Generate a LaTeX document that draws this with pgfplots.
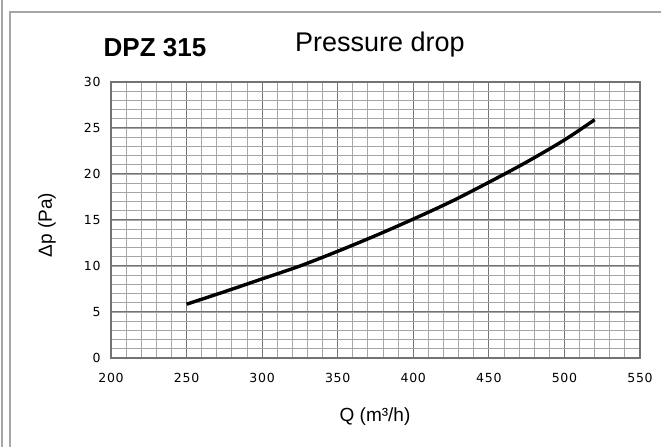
\documentclass[border=0pt]{standalone}
\usepackage{fontspec}
\setmainfont{Liberation Sans}
\newfontfamily\tickfont[LetterSpace=6]{DejaVu Sans}
\usepackage{pgfplots}
\pgfplotsset{compat=1.18}
\begin{document}
\begin{tikzpicture}[x=1pt,y=1pt]
\path[use as bounding box] (0,0) rectangle (661,447);
\draw[gray!70, line width=1.2pt] (2,0) -- (2,447);
\draw[gray!70, line width=1.2pt] (10,0) -- (10,435) -- (661,435);
\begin{axis}[at={(111pt,89pt)}, anchor=south west, scale only axis,
  width=529pt, height=276pt,
  xmin=200, xmax=550, ymin=0, ymax=30,
  xtick={200,250,...,550}, ytick={0,5,...,30},
  minor xtick={200,210,...,550}, minor ytick={0,1,...,30},
  grid=both,
  major grid style={black!55, line width=1pt},
  minor grid style={black!35, line width=0.9pt},
  axis line style={black!55, line width=1.1pt},
  tick style={draw=none},
  /pgf/number format/assume math mode=true,
  ticklabel style={font=\tickfont\fontsize{12.5}{14}\selectfont, text=black},
  yticklabel style={xshift=-7pt},
  xticklabel style={yshift=-12pt},
]
\addplot[black, line width=3.4pt, smooth] coordinates {
(250,5.85) (275,7.2) (300,8.6) (325,10.0) (350,11.6) (375,13.3) (400,15.1)
(425,17.0) (450,19.1) (475,21.3) (500,23.7) (520,25.9)
};
\end{axis}
\node[anchor=base, font=\bfseries\fontsize{26}{28}\selectfont] at (155,390) {DPZ 315};
\node[anchor=base, font=\fontsize{27}{29}\selectfont] at (380,395) {Pressure drop};
\node[anchor=center, font=\fontsize{19}{21}\selectfont] at (375,30) {Q (m³/h)};
\node[anchor=center, rotate=90, font=\fontsize{19}{21}\selectfont] at (47,222) {Δp (Pa)};
\end{tikzpicture}
\end{document}
